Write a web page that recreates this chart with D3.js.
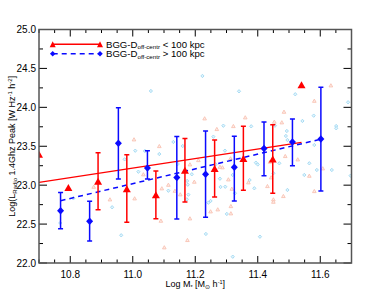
<!DOCTYPE html>
<html><head><meta charset="utf-8">
<script src="https://cdn.jsdelivr.net/npm/d3@7"></script>
<style>html,body{margin:0;padding:0;background:#fff;}svg{display:block;font-family:"Liberation Sans",Arial,sans-serif;}</style>
</head><body><svg id="c" width="390" height="293"></svg>
<script>
// ---- data ----
const blueX   = [10.769,10.862,10.954,11.047,11.141,11.233,11.325,11.420,11.511,11.602];
const blueY   = [22.672,22.536,23.538,23.221,23.100,23.140,23.230,23.470,23.555,23.594];
const blueHi  = [22.906,22.793,23.996,23.443,23.625,23.697,23.630,23.810,23.851,24.258];
const blueLo  = [22.440,22.283,23.080,23.080,22.566,22.587,22.797,23.122,23.250,22.925];
const redX    = [10.700,10.794,10.889,10.981,11.074,11.167,11.262,11.354,11.448,11.540];
const redY    = [23.390,22.964,23.045,22.947,22.870,23.186,23.208,23.335,23.330,24.285];
const redHi   = [null,null,23.418,23.392,23.183,23.600,23.581,23.757,23.776,null];
const redLo   = [null,null,22.685,22.523,22.569,22.784,22.848,22.934,22.896,null];
const redFitX = [10.700,11.540];
const redFitY = [23.037,23.550];
const blueFitX = [10.769,11.602];
const blueFitY = [22.800,23.591];
const bgBlueX = [11.058,11.130,11.160,11.223,11.340,11.290,11.379,11.258,11.455,11.520,11.579,11.543,11.689,11.651,11.651,11.493,11.490,11.495,11.581,11.008,10.974,11.039,11.018,11.085,10.810,10.768,10.934,10.963,11.114,11.178,11.174,11.176,11.189,11.242,11.249,11.301,11.279,11.281,11.296,11.320,11.327,11.234,11.320,11.374,11.389,11.295,11.265,11.144,11.394,11.400,11.450,11.495,11.469,11.565,11.549,11.589,11.637,11.697,11.407,11.173];
const bgBlueY = [24.210,23.555,23.503,24.403,24.206,23.764,23.756,23.623,23.764,24.168,23.893,23.825,24.065,23.760,23.731,23.696,23.632,23.580,23.516,23.443,23.332,23.439,23.173,23.400,22.831,22.514,22.716,22.356,22.929,22.878,23.054,23.006,23.140,22.775,22.797,22.630,23.083,22.977,22.980,23.131,22.896,22.373,22.081,23.066,22.960,23.443,23.268,23.272,23.289,23.266,23.153,22.938,23.281,23.281,23.131,23.195,23.195,23.122,22.338,22.818];
const bgRedX = [11.004,11.085,11.230,11.360,11.322,11.269,11.453,11.477,11.484,11.634,11.581,11.210,11.183,11.287,11.313,10.875,10.927,11.006,11.034,11.090,11.101,11.183,11.175,11.093,11.114,11.135,11.152,11.197,11.249,11.272,11.314,11.314,11.306,11.317,11.370,11.431,11.443,11.450,11.450,11.482,11.565,11.581,11.608,11.488,11.528,11.439,11.279];
const bgRedY = [23.589,23.503,23.859,23.872,23.760,23.722,23.816,23.808,23.944,24.283,24.085,23.323,23.268,23.230,23.345,22.980,22.818,22.831,23.140,22.544,22.202,22.574,22.296,22.960,23.006,22.929,22.883,23.045,22.664,22.690,22.732,22.639,23.075,22.955,23.037,22.989,23.101,22.818,22.788,22.861,23.122,22.925,23.217,23.375,23.332,23.302,23.237];
const xMajor = [10.8,11.0,11.2,11.4,11.6];
const yMajor = [22.0,22.5,23.0,23.5,24.0,24.5,25.0];
const legendLabels = ["< 100 kpc","> 100 kpc"];

// ---- layout ----
const svg = d3.select("#c");
const L=39, R=351.5, T=29.5, B=263;
const x = d3.scaleLinear().domain([10.7,11.7]).range([L,R]);
const y = d3.scaleLinear().domain([22,25]).range([B,T]);
const RED="#ff0000", BLUE="#0a0aff", LBLUE="#9fd8f2", PINK="#f8c2b2", FRAME="#555";

svg.append("defs").append("clipPath").attr("id","pa")
  .append("rect").attr("x",L).attr("y",T).attr("width",R-L).attr("height",B-T);

const tri=(w,h)=>`M0,${-h/2}L${w/2},${h/2}L${-w/2},${h/2}Z`;
const dia=(w,h)=>`M0,${-h/2}L${w/2},0L0,${h/2}L${-w/2},0Z`;

const g = svg.append("g").attr("clip-path","url(#pa)");

// background points
g.selectAll(".bb").data(d3.range(bgBlueX.length)).join("path")
  .attr("d",dia(3.2,3.4)).attr("transform",i=>`translate(${x(bgBlueX[i])},${y(bgBlueY[i])})`)
  .attr("fill","#e3f4fc").attr("stroke",LBLUE).attr("stroke-width",0.9);
g.selectAll(".br").data(d3.range(bgRedX.length)).join("path")
  .attr("d",tri(3.6,3.2)).attr("transform",i=>`translate(${x(bgRedX[i])},${y(bgRedY[i])})`)
  .attr("fill","#fdeee9").attr("stroke",PINK).attr("stroke-width",0.9);

// fit lines
g.append("line").attr("x1",x(redFitX[0])).attr("y1",y(redFitY[0])).attr("x2",x(redFitX[1])).attr("y2",y(redFitY[1]))
  .attr("stroke",RED).attr("stroke-width",1.3);
g.append("line").attr("x1",x(blueFitX[0])).attr("y1",y(blueFitY[0])).attr("x2",x(blueFitX[1])).attr("y2",y(blueFitY[1]))
  .attr("stroke",BLUE).attr("stroke-width",1.5).attr("stroke-dasharray","5,4");

function errs(X,Yh,Yl,col){
  const idx=d3.range(X.length).filter(i=>Yh[i]!=null);
  const e=g.append("g").attr("stroke",col).attr("stroke-width",1.5);
  e.selectAll(".v").data(idx).join("line")
    .attr("x1",i=>x(X[i])).attr("x2",i=>x(X[i])).attr("y1",i=>y(Yh[i])).attr("y2",i=>y(Yl[i]));
  e.selectAll(".t").data(idx).join("line")
    .attr("x1",i=>x(X[i])-2.5).attr("x2",i=>x(X[i])+2.5).attr("y1",i=>y(Yh[i])).attr("y2",i=>y(Yh[i]));
  e.selectAll(".b").data(idx).join("line")
    .attr("x1",i=>x(X[i])-2.5).attr("x2",i=>x(X[i])+2.5).attr("y1",i=>y(Yl[i])).attr("y2",i=>y(Yl[i]));
}
errs(redX,redHi,redLo,RED);
errs(blueX,blueHi,blueLo,BLUE);
g.selectAll(".rt").data(d3.range(redX.length)).join("path")
  .attr("d",tri(8,7)).attr("transform",i=>`translate(${x(redX[i])},${y(redY[i])-0.5})`).attr("fill",RED);
g.selectAll(".bd").data(d3.range(blueX.length)).join("path")
  .attr("d",dia(7,7.5)).attr("transform",i=>`translate(${x(blueX[i])},${y(blueY[i])})`).attr("fill",BLUE);

// frame & ticks
const ax = svg.append("g").attr("stroke","#000").attr("stroke-width",1);
const xMinor = d3.range(0,21).map(k=>10.7+k*0.05).filter(v=>!xMajor.some(m=>Math.abs(m-v)<1e-6));
const yMinor = d3.range(0,13).map(k=>22+k*0.25).filter(v=>!yMajor.some(m=>Math.abs(m-v)<1e-6));
xMajor.forEach(v=>{const px=x(v);
  ax.append("line").attr("x1",px).attr("x2",px).attr("y1",B).attr("y2",B-7);
  ax.append("line").attr("x1",px).attr("x2",px).attr("y1",T).attr("y2",T+7);});
xMinor.forEach(v=>{const px=x(v);
  ax.append("line").attr("x1",px).attr("x2",px).attr("y1",B).attr("y2",B-3.5);
  ax.append("line").attr("x1",px).attr("x2",px).attr("y1",T).attr("y2",T+3.5);});
yMajor.forEach(v=>{const py=y(v);
  ax.append("line").attr("x1",L).attr("x2",L+8).attr("y1",py).attr("y2",py);
  ax.append("line").attr("x1",R).attr("x2",R-8).attr("y1",py).attr("y2",py);});
yMinor.forEach(v=>{const py=y(v);
  ax.append("line").attr("x1",L).attr("x2",L+4).attr("y1",py).attr("y2",py);
  ax.append("line").attr("x1",R).attr("x2",R-4).attr("y1",py).attr("y2",py);});
svg.append("rect").attr("x",L).attr("y",T).attr("width",R-L).attr("height",B-T)
  .attr("fill","none").attr("stroke",FRAME).attr("stroke-width",1.5);

// tick labels
svg.selectAll(".xl").data(xMajor).join("text").attr("x",d=>x(d)).attr("y",B+15)
  .attr("text-anchor","middle").attr("font-size",10).attr("fill","#000").text(d3.format(".1f"));
svg.selectAll(".yl").data(yMajor).join("text").attr("x",L-3).attr("y",d=>y(d)+3.5)
  .attr("text-anchor","end").attr("font-size",10).attr("fill","#000").text(d3.format(".1f"));

// axis titles
const xt = svg.append("text").attr("x",(L+R)/2).attr("y",287).attr("text-anchor","middle").attr("font-size",9);
xt.append("tspan").text("Log M");
xt.append("tspan").attr("font-size",5.5).attr("dy",2).text("*");
xt.append("tspan").attr("dy",-2).text(" [M");
xt.append("tspan").attr("font-size",5.5).attr("dy",2).text("⊙");
xt.append("tspan").attr("dy",-2).text(" h");
xt.append("tspan").attr("font-size",5.5).attr("dy",-3.5).text("-1");
xt.append("tspan").attr("dy",3.5).text("]");

const yt = svg.append("text").attr("transform",`translate(15,${(T+B)/2}) rotate(-90)`)
  .attr("text-anchor","middle").attr("font-size",9);
yt.append("tspan").text("Log(L");
yt.append("tspan").attr("font-size",6).attr("dy",2).text("Radio");
yt.append("tspan").attr("dy",-2).text(" 1.4Ghz Peak [W Hz");
yt.append("tspan").attr("font-size",6).attr("dy",-3.5).text("-1");
yt.append("tspan").attr("dy",3.5).text(" h");
yt.append("tspan").attr("font-size",6).attr("dy",-3.5).text("-2");
yt.append("tspan").attr("dy",3.5).text("]");

// legend
const lg = svg.append("g");
[[RED,null,44.3,tri(6,6)],[BLUE,"5,4",53.7,dia(5.5,5.5)]].forEach((c,i)=>{
  lg.append("line").attr("x1",52.7).attr("x2",100).attr("y1",c[2]).attr("y2",c[2])
    .attr("stroke",c[0]).attr("stroke-width",1.5).attr("stroke-dasharray",c[1]);
  [52.7,100].forEach(px=>lg.append("path").attr("d",c[3]).attr("transform",`translate(${px},${c[2]})`).attr("fill",c[0]));
  const t=lg.append("text").attr("x",106).attr("y",c[2]+3.3).attr("font-size",9.6);
  t.append("tspan").text("BGG-D");
  t.append("tspan").attr("font-size",6.2).attr("dy",1.5).text("off-centr");
  t.append("tspan").attr("dy",-1.5).text(" "+legendLabels[i]);
});
</script></body></html>
